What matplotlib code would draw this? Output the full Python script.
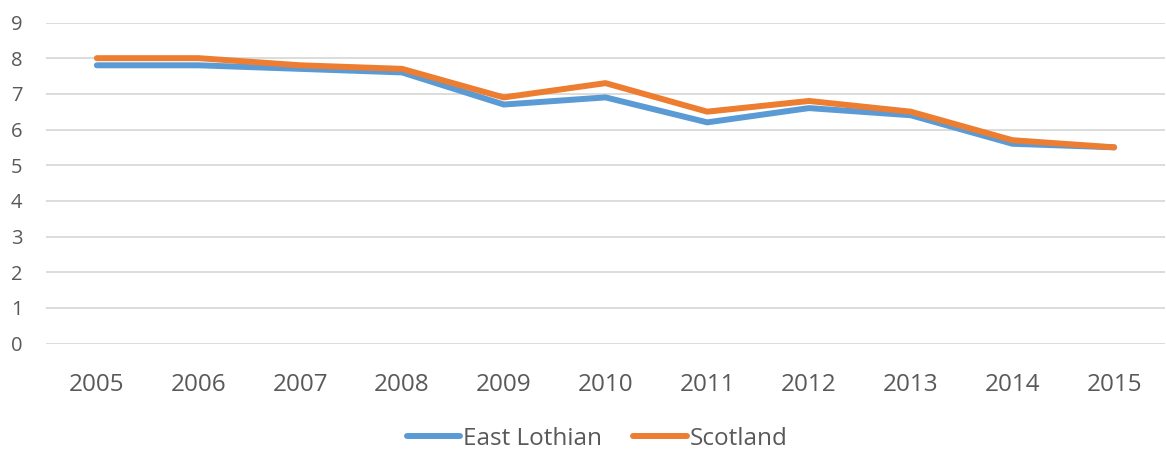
import matplotlib.pyplot as plt

# data
years = ["2005", "2006", "2007", "2008", "2009", "2010",
         "2011", "2012", "2013", "2014", "2015"]
east_lothian = [7.8, 7.8, 7.7, 7.6, 6.7, 6.9, 6.2, 6.6, 6.4, 5.6, 5.5]
scotland = [8.0, 8.0, 7.8, 7.7, 6.9, 7.3, 6.5, 6.8, 6.5, 5.7, 5.5]

BLUE = "#5B9BD5"
ORANGE = "#ED7D31"
GRID = "#D9D9D9"
TEXT = "#595959"

plt.rcParams["font.family"] = ["Open Sans", "DejaVu Sans"]

fig = plt.figure(figsize=(11.66, 4.54), dpi=100)
ax = fig.add_axes([46 / 1166, 1 - 343.5 / 454, 1119 / 1166, 321 / 454])

x = range(len(years))
ax.plot(x, east_lothian, color=BLUE, lw=4.3, solid_capstyle="round",
        solid_joinstyle="round", label="East Lothian")
ax.plot(x, scotland, color=ORANGE, lw=4.3, solid_capstyle="round",
        solid_joinstyle="round", label="Scotland")

ax.set_xlim(-0.5, len(years) - 0.5)
ax.set_ylim(0, 9)
ax.set_yticks(range(0, 10))
ax.set_xticks(list(x))
ax.set_xticklabels(years)

ax.grid(axis="y", color=GRID, lw=1.3)
ax.set_axisbelow(True)
for s in ax.spines.values():
    s.set_visible(False)
ax.tick_params(axis="both", length=0, colors=TEXT)
ax.tick_params(axis="x", labelsize=17.5, pad=21)
ax.tick_params(axis="y", labelsize=14.5, pad=17)

fig.legend(loc="center", bbox_to_anchor=(0.512, 1 - 439 / 454), ncol=2,
           frameon=False, fontsize=17.5, handlelength=2.2, handletextpad=0.1,
           columnspacing=1.3, labelcolor=TEXT)

fig.savefig("out.png", dpi=100)
